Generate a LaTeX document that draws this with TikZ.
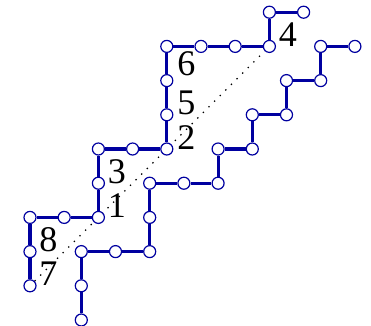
\documentclass[tikz,border=0pt]{standalone}
\usepackage{fontspec}
\setmainfont{Liberation Serif}
\usetikzlibrary{calc,backgrounds}
\definecolor{chainc}{RGB}{0,0,160}

\begin{document}
\begin{tikzpicture}[font=\fontsize{30}{36}\selectfont,
  site/.style={circle,draw=chainc,fill=white,line width=1pt,minimum size=10pt,inner sep=0pt},
  bond/.style={draw=chainc,line width=2.6pt},
  num/.style={anchor=base west,inner sep=0pt},
  contact/.style={line width=1.1pt,dash pattern=on 1.1pt off 5.5pt}]
\useasboundingbox (-0.877,-0.175) rectangle (9.971,9.357);

%============================== chain a ==============================
\foreach \x/\y [count=\i from 0] in {0/1,0/2,0/3,1/3,2/3,2/4,2/5,3/5,4/5,4/6,4/7,4/8,5/8,6/8,7/8,7/9,8/9}
  \node[site] (a\i) at (\x,\y) {};
\foreach \i [evaluate=\i as \j using int(\i+1)] in {0,...,15}{\draw[bond] (a\i) -- (a\j);}

%============================== chain b ==============================
\foreach \x/\y [count=\i from 0] in {1.5/0,1.5/1,1.5/2,2.5/2,3.5/2,3.5/3,3.5/4,4.5/4,5.5/4,5.5/5,6.5/5,6.5/6,7.5/6,7.5/7,8.5/7,8.5/8,9.5/8}
  \node[site] (b\i) at (\x,\y) {};
\foreach \i [evaluate=\i as \j using int(\i+1)] in {0,...,15}{\draw[bond] (b\i) -- (b\j);}

\begin{scope}[on background layer]
\draw[contact] (a0) -- (a14);
\end{scope}

%============================== numbers ==============================
\node[num] (n7) at ($(a0)+(0.27,0)$) {7};
\node[num] (n8) at ($(a1)+(0.27,0)$) {8};
\node[num] (n1) at ($(a4)+(0.27,0)$) {1};
\node[num] (n3) at ($(a5)+(0.27,0)$) {3};
\node[num] (n2) at ($(a8)+(0.30,0)$) {2};
\node[num] (n5) at ($(a9)+(0.30,0)$) {5};
\node[num,anchor=north west] (n6) at ($(a11)+(0.30,-0.16)$) {6};
\node[num] (n4) at ($(a14)+(0.27,0)$) {4};
\end{tikzpicture}
\end{document}
